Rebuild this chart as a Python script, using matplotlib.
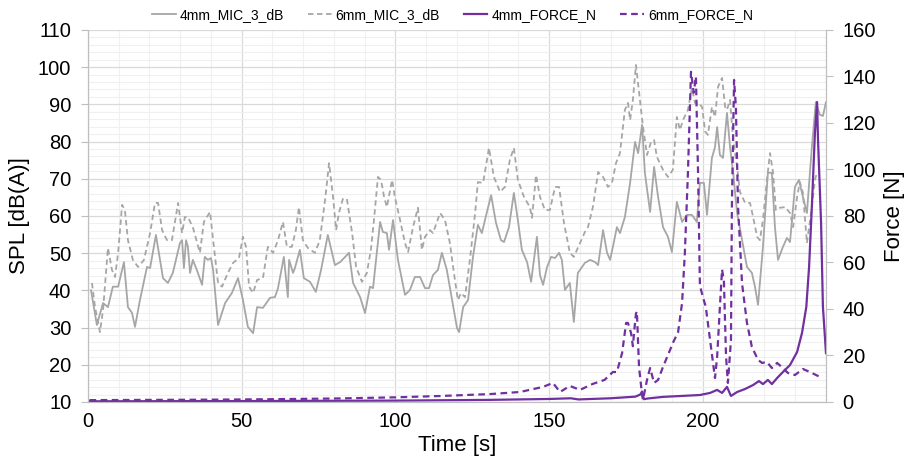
import matplotlib
matplotlib.use('Agg')
import matplotlib.pyplot as plt
from matplotlib.ticker import MultipleLocator

plt.rcParams['font.family'] = ['Liberation Sans', 'DejaVu Sans']

# 4mm microphone, SPL dB(A)
mic4_t = [1.0, 2.9, 4.9, 6.5, 8.1, 9.8, 11.7, 13.0, 14.3, 15.3, 16.9, 19.2, 20.2, 22.1, 24.4, 26.0,
          27.6, 29.9, 30.6, 31.2, 31.9, 32.5, 33.2, 34.1, 35.4, 37.1, 38.0, 39.0, 40.0, 40.7, 42.3,
          44.6, 46.8, 48.8, 50.4, 52.0, 53.7, 55.0, 56.9, 59.2, 60.8, 61.8, 63.7, 65.0, 65.4, 66.7,
          67.3, 68.9, 70.2, 72.2, 74.1, 75.8, 78.0, 80.3, 82.0, 83.6, 84.9, 86.2, 88.5, 90.1, 91.7,
          92.7, 95.0, 95.9, 97.2, 97.9, 99.2, 100.8, 103.1, 104.7, 106.3, 108.0, 109.6, 110.9, 112.2,
          113.8, 115.1, 116.7, 118.4, 120.0, 120.7, 122.0, 123.6, 125.2, 126.8, 128.1, 129.1, 131.1,
          132.7, 134.3, 135.3, 136.9, 138.5, 139.8, 141.1, 142.8, 144.1, 146.0, 147.0, 148.0, 149.3,
          150.6, 151.9, 153.2, 154.1, 155.1, 156.7, 158.0, 159.3, 160.0, 161.6, 163.3, 164.9, 165.9,
          167.5, 168.8, 169.8, 170.7, 172.0, 173.0, 174.6, 176.3, 177.9, 178.9, 180.2, 181.1, 182.8,
          184.1, 185.4, 187.0, 188.6, 189.9, 191.5, 193.2, 194.8, 196.4, 198.0, 199.0, 200.3, 201.3,
          202.9, 203.9, 204.6, 205.5, 206.5, 207.8, 208.8, 209.8, 211.1, 212.7, 214.3, 215.9, 216.9,
          217.9, 219.5, 221.1, 222.4, 223.4, 224.4, 226.0, 227.3, 228.3, 229.9, 231.2, 232.5, 233.8,
          235.4, 236.7, 238.0, 239.0, 240.0]
mic4_db = [40, 30.7, 36.6, 35.5, 41, 41, 47.6, 35.5, 34, 30.2, 37.4, 46.3, 46, 54.9, 43.3, 42,
           44.7, 52.7, 53.5, 46, 53.5, 51.7, 44.7, 48.2, 45.5, 41.5, 49, 48.2, 48.7, 45.5, 30.7,
           36.6, 39.3, 43.3, 37.4, 30.2, 28.5, 35.5, 35.3, 38, 38.2, 40.6, 49, 38.2, 48.2, 44.7,
           46, 50.9, 43.3, 42.3, 39.6, 45.5, 54.9, 46.8, 47.6, 49, 50.1, 42, 38.2, 33.9, 41,
           40.6, 58.4, 55.7, 55.4, 50.9, 58.9, 48.2, 38.8, 40.1, 43.6, 43.6, 40.6, 40.6, 44.1,
           45.5, 50.1, 45.5, 37.4, 29.9, 28.8, 35.5, 37.4, 49, 57.6, 55.4, 58.9, 65.6,
           58.1, 53.5, 53, 57, 66.2, 58.9, 50.9, 47.6, 42.3, 54.4, 44.1, 41.5, 46.3,
           49, 48.7, 50.1, 48.2, 40.1, 42, 31.5, 44.7, 45.5, 47.4, 48.2, 47.6, 46.8,
           56.2, 50.1, 48.2, 51.7, 57, 55.4, 59.7, 68.9, 79.9, 76.9, 84.5, 71.6, 61.1,
           73.2, 65.1, 57, 54.4, 50.3, 63.8, 58.4, 60.3, 60.3, 58.4, 68.9, 68.9, 60.3,
           75.6, 78.5, 83.9, 76.4, 75.6, 87.7, 78.5, 71.6, 60.8, 53.5, 46.3, 44.7, 41,
           36.1, 51.7, 71.6, 71.6, 57, 48.2, 51.7, 54.1, 53, 67.8, 69.7, 65.1, 60.8,
           78.5, 90.6, 87.2, 86.9, 90.6]

# 6mm microphone, SPL dB(A)
mic6_t = [1.3, 2.3, 3.9, 4.9, 6.5, 7.8, 8.8, 9.8, 11.1, 12.0, 13.0, 14.6, 16.3, 18.2, 20.2, 21.8,
          22.8, 24.1, 25.7, 27.3, 29.3, 30.6, 31.5, 32.5, 34.1, 36.4, 37.7, 39.7, 40.7, 42.3, 43.6,
          45.5, 47.2, 49.1, 50.4, 51.4, 52.4, 53.7, 55.0, 56.9, 58.5, 60.2, 61.8, 63.4, 64.7, 66.3,
          67.6, 68.6, 69.9, 71.5, 73.8, 75.4, 77.1, 78.4, 79.7, 80.7, 81.6, 82.9, 84.2, 85.9, 87.2,
          89.1, 90.7, 92.0, 93.0, 94.3, 95.3, 96.3, 97.2, 98.9, 99.8, 101.5, 103.1, 104.1, 105.7,
          107.3, 108.6, 109.6, 111.2, 112.2, 114.5, 116.1, 117.7, 119.0, 120.3, 121.3, 122.6, 124.2,
          125.9, 126.8, 128.5, 130.4, 132.0, 134.0, 135.6, 137.2, 138.5, 139.8, 141.8, 143.7, 144.4,
          145.7, 147.0, 148.6, 150.2, 151.9, 153.2, 154.8, 156.7, 158.0, 160.0, 161.6, 162.6, 164.2,
          165.9, 167.5, 169.1, 170.4, 171.7, 173.0, 174.6, 175.6, 176.3, 177.2, 178.2, 179.2, 180.5,
          181.8, 183.1, 184.1, 185.0, 187.0, 188.6, 190.2, 191.5, 192.5, 193.5, 195.1, 196.4, 197.4,
          198.4, 199.7, 200.7, 201.6, 202.9, 203.9, 204.9, 206.2, 207.2, 207.8, 208.8, 209.8, 211.1,
          212.0, 213.7, 215.3, 216.3, 217.6, 218.5, 219.5, 220.8, 221.8, 222.8, 223.7, 225.0, 226.7,
          228.3, 229.3, 230.6, 231.5, 232.5, 233.8, 235.4, 236.4, 237.1]
mic6_db = [42, 35.5, 28.8, 34.7, 51.4, 45.5, 43.6, 50.1, 63, 61.6, 53.5, 48.2, 46.3, 48.2, 55.4, 63.5,
           63.5, 56.2, 53.5, 53.5, 63.5, 55.4, 59.7, 59.7, 57, 50.1, 58.4, 61.1, 53.5, 42, 41,
           44.7, 47.4, 48.7, 54.4, 51.7, 41, 39.3, 42.8, 43.3, 51.7, 50.1, 53.5, 58.4, 51.7, 51.7,
           56.2, 62.4, 53.5, 51.4, 50.1, 53.5, 64.3, 74.2, 65.1, 56.2, 60.8, 64.6, 64.6, 55.4, 46.3,
           42.3, 44.7, 50.9, 58.9, 70.5, 69.7, 65.1, 62.4, 69.7, 65.1, 58.9, 52.7, 50.3, 57,
           62.2, 50.9, 54.4, 56.2, 55.4, 60.8, 58.9, 52.7, 44.7, 37.4, 39.3, 38.2, 48.2,
           60.8, 69.1, 68.9, 78.3, 70.5, 66.5, 67.8, 75.1, 78.3, 69.7, 65.1, 62.4, 59.5,
           71, 65.1, 61.6, 61.6, 67.8, 67.8, 58.1, 50.1, 49, 52.7, 55.7, 57, 62.4,
           71.8, 70.5, 67.8, 68.9, 74.2, 76.9, 88.5, 90.4, 85.8, 91.2, 100.6, 93.3, 83.9,
           76.4, 79.9, 80.4, 75.9, 72.4, 70.5, 72.4, 86.6, 83.1, 85.8, 88.5, 94.4, 90.4,
           90.4, 89.3, 82.7, 81.8, 89.3, 86.6, 94.7, 97.1, 89.3, 88.5, 91.2, 80.4, 73.2,
           66.5, 63.5, 63.5, 59.7, 54.4, 53.5, 58.9, 69.7, 76.9, 71.6, 61.6, 62.2, 62.4,
           60.8, 57, 65.1, 69.1, 66.2, 52.7, 62.4, 69.7, 71.8]

# 4mm force, N
force4_t = [0.5, 50, 100, 130, 150, 157, 159.5, 170, 178, 179.6, 180.2, 180.8, 182, 187, 199,
            202.3, 204.6, 206.2, 207.8, 209.1, 211.1, 213.7, 216.3, 218.2, 219.5, 221.1, 222.4,
            224.1, 226.0, 228.3, 230.6, 232.2, 233.6, 234.5, 235.4, 236.4, 237.1, 237.4, 238.4,
            239.0, 240.0]
force4_n = [0.3, 0.4, 0.6, 0.9, 1.3, 1.6, 1.1, 1.6, 2.3, 3.2, 4.5, 1.2, 1.5, 2.2, 3.0,
            3.9, 5.2, 3.9, 6.5, 2.6, 4.3, 5.6, 7.3, 9.0, 7.7, 9.5, 7.7,
            10.3, 12.9, 15.9, 21.5, 29.7, 40.9, 58.1, 83.9, 115.7, 129, 113, 77,
            41, 21]

# 6mm force, N
force6_t = [0.5, 20, 40, 60, 80, 100, 115, 130.7, 140.5, 148, 151.2, 153.5, 156.7, 160, 164.2,
            168, 170.7, 172, 173.7, 175, 175.6, 176.6, 177.2, 177.6, 178.2, 178.5, 179.2, 180.2,
            180.5, 181.8, 182.8, 184.1, 185.4, 187, 189.3, 190.2, 191.9, 193.2, 194.1, 195.1,
            196.1, 197.0, 197.7, 198.4, 199.0, 200.0, 200.9, 202.3, 203.9, 204.6, 205.5, 206.2,
            206.8, 207.5, 208.1, 209.1, 209.4, 210.1, 210.7, 211.4, 212.7, 214.3, 215.9, 217.9,
            219.2, 220.8, 222.4, 224.1, 226.0, 227.6, 229.9, 232.5, 235.4, 238.0]
force6_n = [0.8, 0.9, 1.0, 1.2, 1.5, 2.0, 2.6, 3.4, 4.3, 6.5, 8.2, 4.3, 6.9, 5.2, 7.8,
            9.5, 12.9, 12.9, 21.1, 34, 34, 29.7, 24, 30, 38, 39, 15, 3,
            1, 9.5, 14.6, 8.2, 9.5, 15.1, 22.4, 25.4, 30, 42.6, 64, 98.5,
            142, 133, 140, 98.5, 50, 45, 41, 26.7, 10.3, 19.4, 40.9, 57,
            52, 19.4, 8.2, 26.7, 84, 138.5, 127, 84, 51, 34, 23.7, 18.1,
            16.8, 17.2, 14.6, 16.8, 14.6, 12.5, 11.6, 14.2, 12.5, 10.8]

gray = '#A6A6A6'
purple = '#7030A0'

fig = plt.figure(figsize=(9.05, 4.61), dpi=100)
ax = fig.add_axes([0.0972, 0.128, 0.8155, 0.807])
ax2 = ax.twinx()

l1, = ax.plot(mic4_t, mic4_db, color=gray, lw=1.3, label='4mm_MIC_3_dB')
l2, = ax.plot(mic6_t, mic6_db, color=gray, lw=1.3, ls=(0, (3, 2)), label='6mm_MIC_3_dB')
l3, = ax2.plot(force4_t, force4_n, color=purple, lw=1.6, label='4mm_FORCE_N')
l4, = ax2.plot(force6_t, force6_n, color=purple, lw=1.6, ls=(0, (3, 2)), label='6mm_FORCE_N')

ax.set_xlim(0, 240)
ax.set_ylim(10, 110)
ax2.set_ylim(0, 160)
ax.set_xticks([0, 50, 100, 150, 200])
ax.xaxis.set_minor_locator(MultipleLocator(10))
ax.set_yticks(range(10, 111, 10))
ax.yaxis.set_minor_locator(MultipleLocator(2))
ax2.set_yticks(range(0, 161, 20))

ax.grid(which='minor', color='#F0F0F0', lw=0.8)
ax.grid(which='major', color='#D9D9D9', lw=0.9)
ax.set_axisbelow(True)

for a in (ax, ax2):
    a.spines['top'].set_visible(False)
    for s in ('left', 'right', 'bottom'):
        a.spines[s].set_color('#BFBFBF')
ax.tick_params(axis='x', which='both', length=0, labelsize=14.5, pad=7)
ax.tick_params(axis='y', which='major', length=5, color='#BFBFBF', labelsize=14.5, pad=7)
ax.tick_params(axis='y', which='minor', length=0)
ax2.tick_params(axis='y', length=5, color='#BFBFBF', labelsize=14.5, pad=7)

ax.set_xlabel('Time [s]', fontsize=16, labelpad=3)
ax.set_ylabel('SPL [dB(A)]', fontsize=16, labelpad=6)
ax2.set_ylabel('Force [N]', fontsize=16, labelpad=6)

fig.legend(handles=[l1, l2, l3, l4], loc='upper center', bbox_to_anchor=(0.5, 1.01),
           ncol=4, frameon=False, fontsize=10, handlelength=1.7, columnspacing=1.7,
           handletextpad=0.3)

fig.savefig('out.png', dpi=100)
